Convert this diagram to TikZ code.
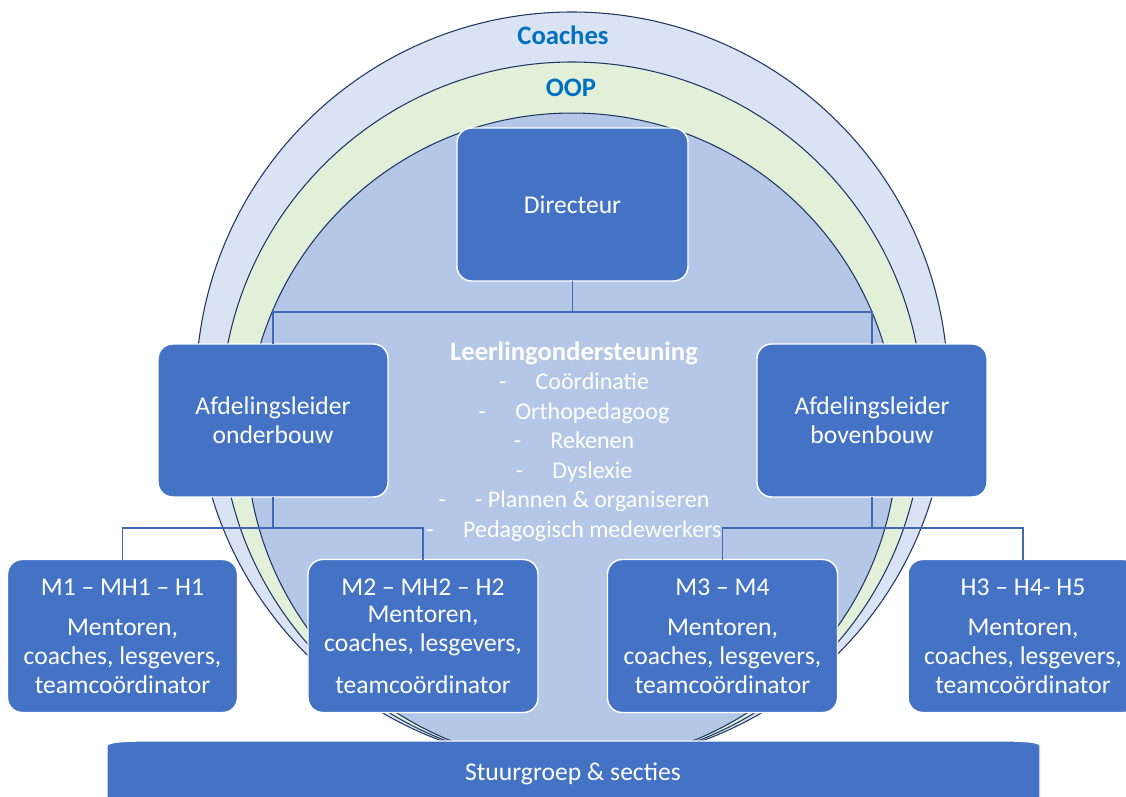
\documentclass[tikz,border=0pt]{standalone}
\usepackage{fontspec}
\setmainfont{Carlito}
\newcommand*{\boxfont}{\fontsize{19.2}{21.75}\selectfont}
\newcommand*{\headfont}{\fontsize{20}{22}\selectfont\bfseries}
\newcommand*{\listfont}{\fontsize{18}{22.1}\selectfont}
\definecolor{unitblue}{HTML}{4472C4}
\definecolor{linkblue}{HTML}{3F69B5}
\definecolor{paleblue}{HTML}{DAE3F3}
\definecolor{palegreen}{HTML}{E2F0D9}
\definecolor{coreblue}{HTML}{B4C7E7}
\definecolor{navy}{HTML}{203864}
\definecolor{textblue}{HTML}{0070C0}
\usetikzlibrary{positioning}
\tikzstyle{base}=[x=0.75pt, y=-0.75pt, inner sep=0pt, outer sep=0pt]
\tikzstyle{ringline}=[navy, line width=0.8pt]
\tikzstyle{unit}=[draw=white, line width=1.1pt, fill=unitblue, rounded corners=11pt, text=white, minimum width=172.5pt, minimum height=114.75pt, align=center, font=\boxfont]
\tikzstyle{link}=[linkblue, line width=1.1pt]

\begin{document}
\begin{tikzpicture}[base]
    \path [use as bounding box] (0,0) rectangle (1126,796);
        \draw [ringline, fill=paleblue] (572,388) circle [radius=282pt];
        \draw [ringline, fill=palegreen] (572,413) circle [radius=263.25pt];
        \draw [ringline, fill=coreblue] (572,438.5) circle [radius=244.1pt];
        \node (coaches) at (563,35) [textblue, font=\headfont] {Coaches};
        \node (oop) at (571,88) [textblue, font=\headfont] {OOP};
        \node (dir) at (572.5,204.5) [unit, minimum width=173.25pt] {Directeur};
        \node (aflo) at (273,420.5) [unit] {Afdelingsleider\\ onderbouw};
        \node (afbo) at (872,420.5) [unit] {Afdelingsleider\\ bovenbouw};
        \node (mone) at (122.5,636) [unit] {M1 – MH1 – H1\\[8.25pt] Mentoren,\\ coaches, lesgevers,\\ teamcoördinator};
        \node (mtwo) at (423,636) [unit] {M2 – MH2 – H2\\[-1.5pt] Mentoren,\\ coaches, lesgevers,\\[9.75pt] teamcoördinator};
        \node (mthree) at (722.5,636) [unit] {M3 – M4\\[8.25pt] Mentoren,\\ coaches, lesgevers,\\ teamcoördinator};
        \node (hthree) at (1023,636) [unit] {H3 – H4- H5\\[8.25pt] Mentoren,\\ coaches, lesgevers,\\ teamcoördinator};
        \draw [link] (dir.south) -- ++(0,31) -| (aflo.north);
        \draw [link] (dir.south) -- ++(0,31) -| (afbo.north);
        \draw [link] (aflo.south) -- ++(0,31) -| (mone.north);
        \draw [link] (aflo.south) -- ++(0,31) -| (mtwo.north);
        \draw [link] (afbo.south) -- ++(0,31) -| (mthree.north);
        \draw [link] (afbo.south) -- ++(0,31) -| (hthree.north);
        \node (leer) at (574,441.5) [white, align=center, font=\listfont] {{\headfont Leerlingondersteuning}\\ -\hspace{22pt}Coördinatie\\ -\hspace{22pt}Orthopedagoog\\ -\hspace{22pt}Rekenen\\ -\hspace{22pt}Dyslexie\\ -\hspace{22pt}- Plannen \& organiseren\\ -\hspace{22pt}Pedagogisch medewerkers};
        \draw [white, line width=0.8pt, fill=unitblue] (107,800) -- (107,746) .. controls (107,742) and (125,741) .. (155,741) -- (995,741) .. controls (1025,741) and (1040,742) .. (1040,746) -- (1040,800);
        \node (stuur) at (573,774) [white, font=\boxfont] {Stuurgroep \& secties};
    \end{tikzpicture}
\end{document}
